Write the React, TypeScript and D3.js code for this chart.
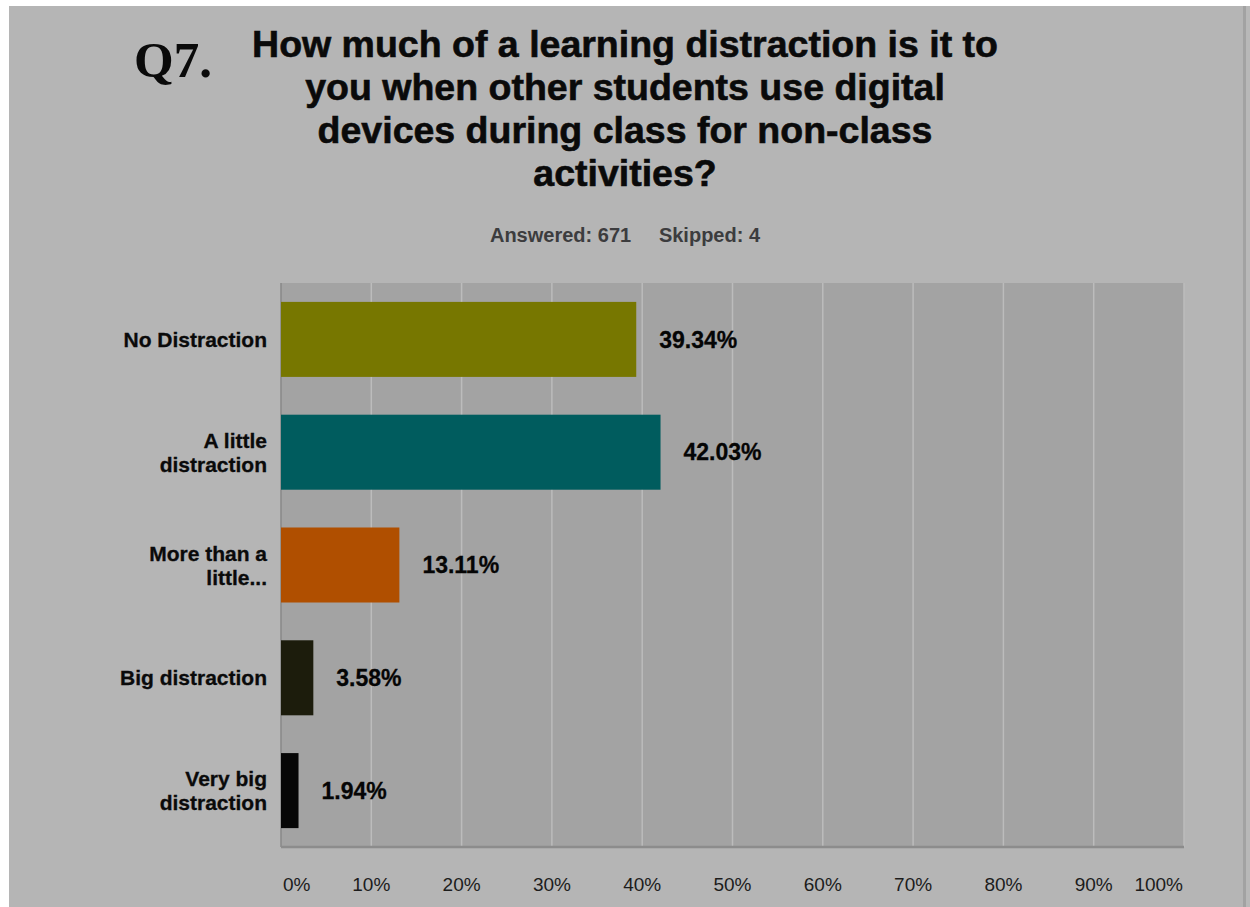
import React from 'react';
import * as d3 from 'd3';

// answer options and their share of responses (%)
const categories = ['No Distraction', 'A little distraction', 'More than a little...', 'Big distraction', 'Very big distraction'];
const labelLines = [['No Distraction'], ['A little', 'distraction'], ['More than a', 'little...'], ['Big distraction'], ['Very big', 'distraction']];
const values = [39.34, 42.03, 13.11, 3.58, 1.94];
const barColors = ['#777700', '#005c5e', '#b04f00', '#1c1c0c', '#070707'];
const ticks = [0, 10, 20, 30, 40, 50, 60, 70, 80, 90, 100];
const titleLines = [
  'How much of a learning distraction is it to',
  'you when other students use digital',
  'devices during class for non-class',
  'activities?',
];

const W = 1250;
const H = 907;
const plot = { left: 281, right: 1184, top: 283, bottom: 847 };
const sans = '"Liberation Sans", Arial, sans-serif';

const App: React.FC = () => {
  const x = d3.scaleLinear().domain([0, 100]).range([plot.left, plot.right]);
  const y = d3.scaleBand<string>()
    .domain(categories)
    .range([plot.top, plot.bottom])
    .paddingInner(0.335)
    .paddingOuter(0.1675);

  const tickAnchor = (t: number) => (t === 0 ? 'start' : t === 100 ? 'end' : 'middle');
  const tickX = (t: number) => (t === 0 ? x(t) + 2 : t === 100 ? x(t) - 1 : x(t));

  return (
    <svg width={W} height={H} style={{ position: 'absolute', left: 0, top: 0 }}>
      <rect x={0} y={0} width={W} height={H} fill="#ffffff" />
      <rect x={9} y={6} width={1234} height={H - 6} fill="#b5b5b5" />
      <rect x={1243} y={6} width={3} height={H - 6} fill="#a2a2a2" />
      <rect x={1246} y={6} width={4} height={H - 6} fill="#b8b8b8" />

      {/* question number + title */}
      <text x={134} y={77} fontFamily='"Liberation Serif", "Times New Roman", serif' fontWeight="bold" fontSize={51} fill="#0a0a0a">
        Q7.
      </text>
      {titleLines.map((line, i) => (
        <text key={i} x={625} y={57 + i * 43} textAnchor="middle" fontFamily={sans} fontWeight="bold" fontSize={37.5}
          fill="#0a0a0a" stroke="#0a0a0a" strokeWidth={0.6}>
          {line}
        </text>
      ))}
      <text x={625} y={242} textAnchor="middle" fontFamily={sans} fontWeight="bold" fontSize={20} fill="#3c3c3e" xmlSpace="preserve">
        {'Answered: 671     Skipped: 4'}
      </text>

      {/* plot area */}
      <rect x={plot.left} y={plot.top} width={plot.right - plot.left} height={plot.bottom - plot.top} fill="#a3a3a3" />
      {ticks.filter(t => t > 0).map(t => (
        <line key={t} x1={x(t)} x2={x(t)} y1={plot.top} y2={plot.bottom} stroke="#bcbcbc" strokeWidth={1.5} />
      ))}
      <line x1={plot.left} x2={plot.left} y1={plot.top} y2={plot.bottom} stroke="#888888" strokeWidth={1.5} />
      <line x1={plot.left} x2={plot.right} y1={plot.bottom} y2={plot.bottom} stroke="#8c8c8c" strokeWidth={2.5} />

      {categories.map((c, i) => {
        const y0 = y(c) ?? 0;
        const cy = y0 + y.bandwidth() / 2;
        const lines = labelLines[i];
        return (
          <g key={c}>
            <rect x={x(0)} y={y0} width={x(values[i]) - x(0)} height={y.bandwidth()} fill={barColors[i]} />
            <text x={x(values[i]) + 23} y={cy} dy="0.36em" fontFamily={sans} fontWeight="bold" fontSize={23}
              fill="#050505" stroke="#050505" strokeWidth={0.3}>
              {values[i].toFixed(2)}%
            </text>
            {lines.map((ln, j) => (
              <text
                key={j}
                x={267}
                y={cy + (j - (lines.length - 1) / 2) * 24}
                dy="0.36em"
                textAnchor="end"
                fontFamily={sans}
                fontWeight="bold"
                fontSize={21}
                fill="#0a0a0a"
                stroke="#0a0a0a"
                strokeWidth={0.3}
              >
                {ln}
              </text>
            ))}
          </g>
        );
      })}

      {ticks.map(t => (
        <text key={t} x={tickX(t)} y={891} textAnchor={tickAnchor(t)} fontFamily={sans} fontSize={19} fill="#1c1c1c">
          {t}%
        </text>
      ))}
    </svg>
  );
};

export default App;
